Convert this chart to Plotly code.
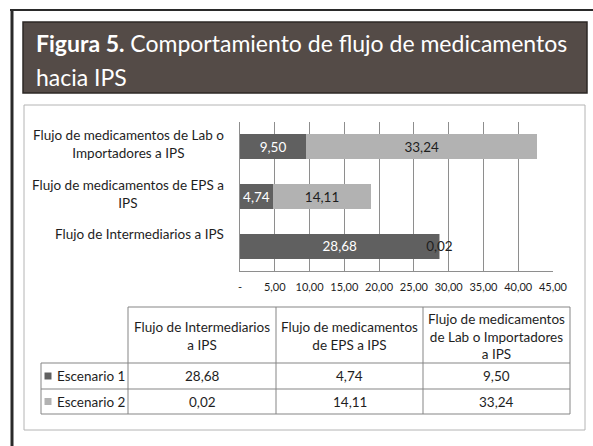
import plotly.graph_objects as go

# ---------------- data ----------------
CATEGORIES = [
    "Flujo de Intermediarios a IPS",
    "Flujo de medicamentos de EPS a IPS",
    "Flujo de medicamentos de Lab o Importadores a IPS",
]
AXIS_LABELS = [
    "Flujo de Intermediarios a IPS",
    "Flujo de medicamentos de EPS a<br>IPS",
    "Flujo de medicamentos de Lab o<br>Importadores a IPS",
]
TABLE_HEADERS = [
    "Flujo de Intermediarios<br>a IPS",
    "Flujo de medicamentos<br>de EPS a IPS",
    "Flujo de medicamentos<br>de Lab o Importadores<br>a IPS",
]
SERIES_NAMES = ["Escenario 1", "Escenario 2"]
ESCENARIO_1 = [28.68, 4.74, 9.50]
ESCENARIO_2 = [0.02, 14.11, 33.24]
TICK_VALUES = [0, 5, 10, 15, 20, 25, 30, 35, 40, 45]
TICK_LABELS = ["-", "5,00", "10,00", "15,00", "20,00", "25,00", "30,00", "35,00", "40,00", "45,00"]
TITLE_BOLD = "Figura 5."
TITLE_LINE1 = "Comportamiento de flujo de medicamentos"
TITLE_LINE2 = "hacia IPS"

# ---------------- style ----------------
W, H = 593, 446
FONT = "Lato, 'Open Sans', sans-serif"
DARK = "#606060"
LIGHT = "#b2b2b2"
TEXT = "#1e1e1e"
GRID = "#8e8e8e"
TABLE_LINE = "#858585"
SERIES_COLORS = [DARK, LIGHT]
SERIES_TEXT = ["white", TEXT]


def px(x):
    return x / W


def py(y):
    return 1 - y / H


def fmt(v):
    return f"{v:.2f}".replace(".", ",")


fig = go.Figure()
for name, vals, col, tcol in zip(SERIES_NAMES, [ESCENARIO_1, ESCENARIO_2], SERIES_COLORS, SERIES_TEXT):
    fig.add_trace(go.Bar(
        y=CATEGORIES, x=vals, name=name, orientation="h",
        marker=dict(color=col, line=dict(width=0)),
        text=[fmt(v) for v in vals], textposition="inside", textangle=0,
        insidetextanchor="middle",
        textfont=dict(family=FONT, size=13.5, color=tcol),
        cliponaxis=False,
    ))

shapes = []
annotations = []


def line(x0, y0, x1, y1, color, width):
    shapes.append(dict(type="line", xref="paper", yref="paper",
                       x0=px(x0), y0=py(y0), x1=px(x1), y1=py(y1),
                       line=dict(color=color, width=width)))


def rect(x0, y0, x1, y1, fill, color, width, layer="below"):
    shapes.append(dict(type="rect", xref="paper", yref="paper", layer=layer,
                       x0=px(x0), y0=py(y0), x1=px(x1), y1=py(y1),
                       fillcolor=fill, line=dict(color=color, width=width)))


def text(x, y, s, size=13.5, color=TEXT, xanchor="center", align="center", yanchor="middle"):
    annotations.append(dict(xref="paper", yref="paper", x=px(x), y=py(y), text=s,
                            showarrow=False, xanchor=xanchor, yanchor=yanchor, align=align,
                            font=dict(family=FONT, size=size, color=color)))


# outer frame
line(12, 9, 12, 446, "#2a2a2a", 3)
line(10, 10, 593, 10, "#2a2a2a", 2)
# title box
rect(23, 22, 587, 93, "#544b47", "#2d2826", 1.5)
text(34, 43, f"<b>{TITLE_BOLD}</b> {TITLE_LINE1}", size=23, color="white", xanchor="left", align="left")
text(34, 77, TITLE_LINE2, size=23, color="white", xanchor="left", align="left")
# chart box
rect(24, 105, 585, 430, "rgba(0,0,0,0)", "#b4b4b4", 1)

# category labels
for cat, lab in zip(CATEGORIES, AXIS_LABELS):
    annotations.append(dict(xref="paper", yref="y", x=px(226), y=cat, yshift=22,
                            text=lab, showarrow=False, xanchor="right", yanchor="top",
                            align="center", font=dict(family=FONT, size=13.5, color=TEXT)))

# data table
COL_EDGES = [41, 128, 276, 423, 570]
HEAD_TOP, HEAD_BOT = 307, 363
ROW_EDGES = [363, 389, 414]
line(COL_EDGES[1], HEAD_TOP, COL_EDGES[-1], HEAD_TOP, TABLE_LINE, 1)
for yy in ROW_EDGES:
    line(COL_EDGES[0], yy, COL_EDGES[-1], yy, TABLE_LINE, 1)
line(COL_EDGES[0], ROW_EDGES[0], COL_EDGES[0], ROW_EDGES[-1], TABLE_LINE, 1)
for xx in COL_EDGES[1:]:
    line(xx, HEAD_TOP, xx, ROW_EDGES[-1], TABLE_LINE, 1)

for i, hdr in enumerate(TABLE_HEADERS):
    cx = (COL_EDGES[i + 1] + COL_EDGES[i + 2]) / 2
    text(cx, (HEAD_TOP + HEAD_BOT) / 2 + 1, hdr, size=13.5)

for r, (name, vals, col) in enumerate(zip(SERIES_NAMES, [ESCENARIO_1, ESCENARIO_2], SERIES_COLORS)):
    cy = (ROW_EDGES[r] + ROW_EDGES[r + 1]) / 2
    rect(44.5, cy - 3.5, 51.5, cy + 3.5, col, col, 0, layer="above")
    text(55, cy, name, size=13.5, xanchor="left", align="left")
    for i, v in enumerate(vals):
        cx = (COL_EDGES[i + 1] + COL_EDGES[i + 2]) / 2
        text(cx, cy, fmt(v), size=13.5)

fig.update_layout(
    template="none",
    width=W, height=H, autosize=False,
    margin=dict(l=0, r=0, t=0, b=0, pad=0, autoexpand=False),
    paper_bgcolor="white", plot_bgcolor="rgba(0,0,0,0)",
    barmode="stack", bargap=0.5,
    showlegend=False,
    separators=",.",
    uniformtext=dict(minsize=13, mode="show"),
    font=dict(family=FONT, color=TEXT),
    xaxis=dict(domain=[px(240), px(553)], range=[0, 45], automargin=False,
               tickvals=TICK_VALUES, ticktext=TICK_LABELS,
               showgrid=True, gridcolor=GRID, gridwidth=1,
               zeroline=False, showline=True, linecolor=GRID, linewidth=1,
               ticks="outside", ticklen=6, tickcolor="rgba(0,0,0,0)",
               tickfont=dict(family=FONT, size=11, color=TEXT), fixedrange=True),
    yaxis=dict(domain=[py(271), py(122)], type="category", automargin=False,
               categoryorder="array", categoryarray=CATEGORIES,
               showticklabels=False, showgrid=False, zeroline=False, ticks="",
               showline=True, linecolor=GRID, linewidth=1, fixedrange=True),
    shapes=shapes,
    annotations=annotations,
)

fig.write_html(
    "out.html",
    config={"displayModeBar": False, "responsive": False},
    post_script="document.body.style.margin='0';document.body.style.overflow='hidden';",
)
